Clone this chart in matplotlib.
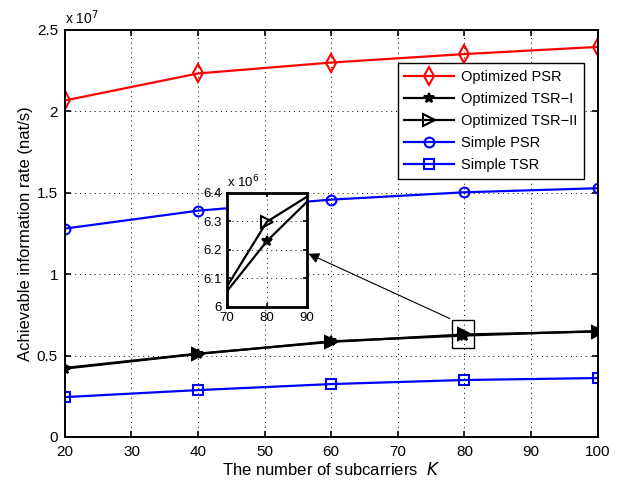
import matplotlib

matplotlib.use('Agg')

import matplotlib.pyplot as plt
from matplotlib.patches import Rectangle
from matplotlib.ticker import FuncFormatter

plt.rcParams.update({
    'font.family': 'Liberation Sans',
    'font.size': 10,
    'axes.linewidth': 1.4,
    'xtick.direction': 'in',
    'ytick.direction': 'in',
    'xtick.top': True,
    'ytick.right': True,
    'xtick.major.width': 1.2,
    'ytick.major.width': 1.2,
    'xtick.major.size': 4,
    'ytick.major.size': 4,
})

K = [20, 40, 60, 80, 100]
opt_psr = [2.067e7, 2.233e7, 2.300e7, 2.352e7, 2.396e7]
opt_tsr1 = [0.420e7, 0.510e7, 5.876e6, 6.230e6, 6.506e6]
opt_tsr2 = [0.424e7, 0.512e7, 5.840e6, 6.298e6, 6.474e6]
simple_psr = [1.280e7, 1.390e7, 1.458e7, 1.503e7, 1.528e7]
simple_tsr = [0.245e7, 0.288e7, 0.325e7, 0.350e7, 0.362e7]

series = [
    ('Optimized PSR', opt_psr, 'red', 'd', 9),
    ('Optimized TSR\u2212I', opt_tsr1, 'black', '*', 7.5),
    ('Optimized TSR\u2212II', opt_tsr2, 'black', '>', 8),
    ('Simple PSR', simple_psr, 'blue', 'o', 7),
    ('Simple TSR', simple_tsr, 'blue', 's', 6.5),
]

fig = plt.figure(figsize=(6.18, 4.82), dpi=100)
ax = fig.add_axes([0.105, 0.0934, 0.862, 0.8444])

grid_style = dict(color='black', linestyle=(0, (1, 4)), linewidth=0.7)


def draw(a, fill_tri):
    for name, vals, col, mk, ms in series:
        face = col if (mk == '*' or (mk == '>' and fill_tri)) else 'none'
        a.plot(K, vals, color=col, lw=1.6, marker=mk, markersize=ms,
               markerfacecolor=face, markeredgecolor=col, markeredgewidth=1.5,
               label=name)


draw(ax, True)
ax.set_xlim(20, 100)
ax.set_ylim(0, 2.5e7)
ax.set_xticks(range(20, 101, 10))
ax.set_yticks([0, 0.5e7, 1e7, 1.5e7, 2e7, 2.5e7])
ax.yaxis.set_major_formatter(FuncFormatter(lambda v, p: f'{v / 1e7:g}'))
ax.grid(True, **grid_style)
ax.tick_params(labelsize=11)
ax.tick_params(axis='x', pad=6)
ax.tick_params(axis='y', pad=5)
ax.text(0.0, 1.008, 'x 10$^{7}$', transform=ax.transAxes, fontsize=10, ha='left', va='bottom')
ax.set_xlabel('The number of subcarriers  $K$', fontsize=12, labelpad=1)
ax.set_ylabel('Achievable information rate (nat/s)', fontsize=12, labelpad=3)

leg = ax.legend(loc='upper right', bbox_to_anchor=(0.975, 0.918), fontsize=10.5,
                frameon=True, fancybox=False, edgecolor='black', framealpha=1,
                handlelength=3.4, handletextpad=0.5, borderpad=0.45,
                labelspacing=0.55, borderaxespad=0)
leg.get_frame().set_linewidth(1.0)
leg.legend_handles[2].set_markerfacecolor('none')

# box around the zoomed point
ax.add_patch(Rectangle((78.2, 0.546e7), 3.26, 0.174e7, fill=False, edgecolor='black', lw=1.0, zorder=5))
ax.annotate('', xy=(56.2, 1.133e7), xytext=(78.2, 0.72e7),
            arrowprops=dict(arrowstyle='-|>', color='black', lw=0.8, mutation_scale=16))

# inset
ins = fig.add_axes([0.3668, 0.3637, 0.13, 0.2365])
ins.set_facecolor('white')
draw(ins, False)
ins.set_xlim(70, 90)
ins.set_ylim(6.0e6, 6.4e6)
ins.set_xticks([70, 80, 90])
ins.set_yticks([6.0e6, 6.1e6, 6.2e6, 6.3e6, 6.4e6])
ins.yaxis.set_major_formatter(FuncFormatter(lambda v, p: f'{v / 1e6:g}'))
ins.grid(True, **grid_style)
ins.tick_params(labelsize=9.5, length=3)
for s in ins.spines.values():
    s.set_linewidth(2.0)
ins.text(0.0, 1.02, 'x 10$^{6}$', transform=ins.transAxes, fontsize=9.5, ha='left', va='bottom')

plt.savefig('out.png', dpi=100)
